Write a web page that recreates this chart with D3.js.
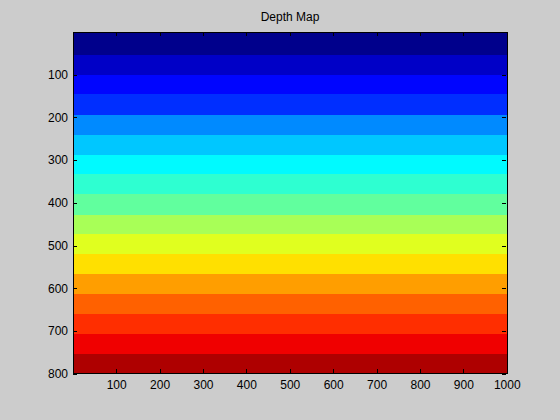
<!DOCTYPE html>
<html>
<head>
<meta charset="utf-8">
<script src="https://cdn.jsdelivr.net/npm/d3@7"></script>
<style>
  body { margin: 0; background: #cccccc; }
  svg text { font-family: "Liberation Sans", Arial, sans-serif; font-size: 12px; fill: #000; }
</style>
</head>
<body>
<script>
const width = 560;
const height = 420;

// row where each depth band ends (image is 1000 x 800)
var bandEdges = [0, 53, 100, 146, 194, 241, 287, 333, 380, 427, 473, 520, 567, 613, 660, 707, 754, 800];
// normalised depth of each band (0 = near, 1 = far)
var bandDepth = [0.012, 0.07, 0.13, 0.17, 0.26, 0.32, 0.37, 0.42, 0.47, 0.54, 0.595, 0.655, 0.72, 0.78, 0.83, 0.89, 0.955];
var xTicks = [100, 200, 300, 400, 500, 600, 700, 800, 900, 1000];
var yTicks = [100, 200, 300, 400, 500, 600, 700, 800];
var imgCols = 1000;
var imgRows = 800;

var axLeft = 73, axRight = 507, axTop = 32, axBottom = 374;

// jet colormap
var jet = d3.scaleLinear()
  .domain([0, 1 / 8, 3 / 8, 5 / 8, 7 / 8, 1])
  .range(["#000080", "#0000ff", "#00ffff", "#ffff00", "#ff0000", "#800000"])
  .interpolate(d3.interpolateRgb);

var x = d3.scaleLinear().domain([0.5, imgCols + 0.5]).range([axLeft, axRight]);
var y = d3.scaleLinear().domain([0.5, imgRows + 0.5]).range([axTop, axBottom]);

var svg = d3.select("body").append("svg")
  .attr("width", width)
  .attr("height", height);

svg.append("rect")
  .attr("width", width).attr("height", height)
  .attr("fill", "#cccccc");

var bands = d3.range(bandDepth.length).map(i => ({
  r0: bandEdges[i], r1: bandEdges[i + 1], d: bandDepth[i]
}));

svg.append("g")
  .selectAll("rect")
  .data(bands)
  .enter()
  .append("rect")
  .attr("x", x(0.5))
  .attr("width", x(imgCols + 0.5) - x(0.5))
  .attr("y", d => y(d.r0 + 0.5))
  .attr("height", d => y(d.r1 + 0.5) - y(d.r0 + 0.5))
  .attr("fill", d => jet(d.d))
  .attr("shape-rendering", "crispEdges");

function styleAxis(g) {
  g.select(".domain").remove();
  g.selectAll("line").attr("stroke", "#000").attr("shape-rendering", "crispEdges");
  g.selectAll("text").attr("font-size", null).attr("font-family", null);
}

var fmt = d3.format("d");

svg.append("g")
  .attr("transform", "translate(" + axLeft + ",0)")
  .call(d3.axisLeft(y).tickValues(yTicks).tickSize(-4).tickPadding(5).tickFormat(fmt))
  .call(styleAxis);

svg.append("g")
  .attr("transform", "translate(" + (axRight - 1) + ",0)")
  .call(d3.axisRight(y).tickValues(yTicks).tickSize(-4).tickFormat(""))
  .call(styleAxis);

svg.append("g")
  .attr("transform", "translate(0," + (axBottom - 1) + ")")
  .call(d3.axisBottom(x).tickValues(xTicks).tickSize(-4).tickPadding(7).tickFormat(fmt))
  .call(styleAxis);

svg.append("g")
  .attr("transform", "translate(0," + axTop + ")")
  .call(d3.axisTop(x).tickValues(xTicks).tickSize(-4).tickFormat(""))
  .call(styleAxis);

svg.append("rect")
  .attr("x", axLeft + 0.5)
  .attr("y", axTop + 0.5)
  .attr("width", axRight - axLeft)
  .attr("height", axBottom - axTop - 1)
  .attr("fill", "none")
  .attr("stroke", "#000")
  .attr("shape-rendering", "crispEdges");

svg.append("text")
  .attr("x", (axLeft + axRight) / 2)
  .attr("y", 21)
  .attr("text-anchor", "middle")
  .text("Depth Map");
</script>
</body>
</html>
